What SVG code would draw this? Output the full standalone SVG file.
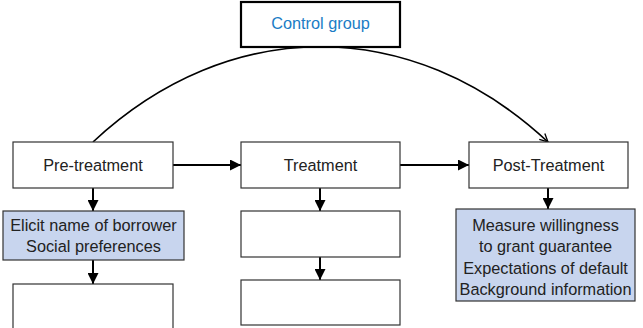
<svg xmlns="http://www.w3.org/2000/svg" width="643" height="328" viewBox="0 0 643 328">
<style>
.box{fill:#fff;stroke:#333;stroke-width:1.2}
.blue{fill:#c8d5ee;stroke:#333;stroke-width:1.2}
.ctrl{fill:#fff;stroke:#000;stroke-width:2.2}
text{font-family:"Liberation Sans",Arial,sans-serif;font-size:16.3px;fill:#222;text-anchor:middle}
.ct{fill:#1a7cc5}
.conn{stroke:#000;stroke-width:2;fill:none}
.arc{stroke:#000;stroke-width:1.7;fill:none}
</style>
<defs>
<marker id="ah" viewBox="0 0 10 10" refX="10" refY="5" markerWidth="5.5" markerHeight="5.5" orient="auto" markerUnits="strokeWidth">
<path d="M0,0 L10,5 L0,10 z" fill="#000"/>
</marker>
<marker id="op" viewBox="0 0 10 10" refX="9" refY="5" markerWidth="6" markerHeight="6" orient="auto" markerUnits="strokeWidth">
<path d="M1,1 L9,5 L1,9" fill="none" stroke="#000" stroke-width="1.3"/>
</marker>
</defs>
<g id="connectors">
<path class="arc" d="M93,142 C229,15 412,15 548,142" marker-end="url(#op)"/>
<line class="conn" x1="173" y1="165" x2="241" y2="165" marker-end="url(#ah)"/>
<line class="conn" x1="400" y1="165" x2="469" y2="165" marker-end="url(#ah)"/>
<line class="conn" x1="93" y1="188" x2="93" y2="211" marker-end="url(#ah)"/>
<line class="conn" x1="320" y1="188" x2="320" y2="211" marker-end="url(#ah)"/>
<line class="conn" x1="548" y1="188" x2="548" y2="209" marker-end="url(#ah)"/>
<line class="conn" x1="93" y1="260" x2="93" y2="284" marker-end="url(#ah)"/>
<line class="conn" x1="320" y1="257" x2="320" y2="280" marker-end="url(#ah)"/>
</g>
<g id="control"><rect class="ctrl" x="241" y="2" width="159" height="45"/><text class="ct" x="320.5" y="29">Control group</text></g>
<g id="pre"><rect class="box" x="13" y="142" width="160" height="46"/><text x="93" y="171">Pre-treatment</text></g>
<g id="treat"><rect class="box" x="241" y="142" width="159" height="46"/><text x="320.5" y="171">Treatment</text></g>
<g id="post"><rect class="box" x="469" y="142" width="159" height="46"/><text x="548.5" y="171">Post-Treatment</text></g>
<g id="elicit"><rect class="blue" x="3" y="211" width="181" height="49"/><text x="93.5" y="230.5">Elicit name of borrower</text><text x="93.5" y="251.5">Social preferences</text></g>
<g id="pre2"><rect class="box" x="13" y="284" width="160" height="50"/></g>
<g id="treat1"><rect class="box" x="241" y="211" width="159" height="46"/></g>
<g id="treat2"><rect class="box" x="241" y="280" width="159" height="45"/></g>
<g id="measure"><rect class="blue" x="456" y="209" width="179" height="92"/><text x="545.5" y="230.5">Measure willingness</text><text x="545.5" y="252">to grant guarantee</text><text x="545.5" y="273.5">Expectations of default</text><text x="545.5" y="295">Background information</text></g>
</svg>
